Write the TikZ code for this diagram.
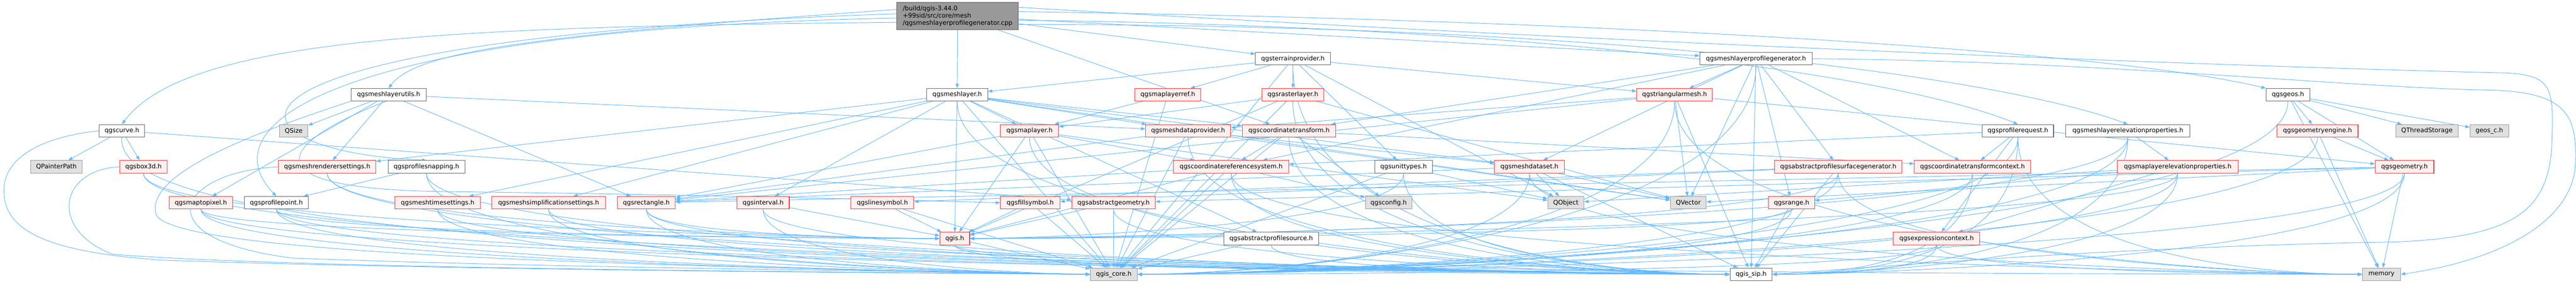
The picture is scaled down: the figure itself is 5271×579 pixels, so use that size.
\documentclass[tikz,border=0pt]{standalone}
\usepackage{fontspec}
\setmainfont{DejaVu Sans}
\usetikzlibrary{arrows.meta,backgrounds}
\definecolor{ec}{HTML}{63B8FF}
\definecolor{rfill}{HTML}{FFF0F0}
\definecolor{rbord}{HTML}{FF3333}
\definecolor{wbord}{HTML}{666666}
\definecolor{gfill}{HTML}{E0E0E0}
\definecolor{gbord}{HTML}{999999}
\definecolor{mfill}{HTML}{999999}
\definecolor{mbord}{HTML}{666666}
\newcommand{\tlc}[3]{\draw[dep] (#1.south) .. controls +(0,-#3) and +(-#3,0) .. (#2.west);}
\newcommand{\trc}[3]{\draw[dep] (#1.south) .. controls +(0,-#3) and +(#3,0) .. (#2.east);}
\begin{document}
\begin{tikzpicture}[x=1pt,y=1pt,
  base/.style={rectangle, inner sep=0pt, minimum height=25.5pt, line width=1.1pt, font=\fontsize{12.8}{14.8}\selectfont},
  wn/.style={base, draw=wbord, fill=white},
  rn/.style={base, draw=rbord, fill=rfill},
  gn/.style={base, draw=gbord, fill=gfill},
  mn/.style={base, draw=mbord, fill=mfill, align=left, minimum height=55.5pt},
  dep/.style={draw=ec, line width=1pt, -{Triangle[length=9pt,width=6.5pt]}}]
\useasboundingbox (0,0) rectangle (5271,579);
% ---------------- nodes ----------------
\node[mn, minimum width=249pt] (M) at (1959.5,546.5) {/build/qgis-3.44.0\\+99sid/src/core/mesh\\/qgsmeshlayerprofilegenerator.cpp};
% row 1
\node[wn, minimum width=153pt] (terrain) at (2645.5,459) {qgsterrainprovider.h};
\node[wn, minimum width=230pt] (mlpg) at (3593,459) {qgsmeshlayerprofilegenerator.h};
% row 2
\node[wn, minimum width=154pt] (mlu) at (795,385.5) {qgsmeshlayerutils.h};
\node[wn, minimum width=125pt] (mlayer) at (1958.5,385.5) {qgsmeshlayer.h};
\node[rn, minimum width=135pt] (mlref) at (2389.5,385.5) {qgsmaplayerref.h};
\node[rn, minimum width=127pt] (raster) at (2645.5,385.5) {qgsrasterlayer.h};
\node[rn, minimum width=155pt] (tri) at (3426.5,385.5) {qgstriangularmesh.h};
\node[wn, minimum width=89pt] (geos) at (4681.5,385.5) {qgsgeos.h};
% row 3
\node[wn, minimum width=93pt] (curve) at (249.5,312) {qgscurve.h};
\node[gn, minimum width=58pt] (qsize) at (601,312) {QSize};
\node[rn, minimum width=119pt] (maplayer) at (2106.5,312) {qgsmaplayer.h};
\node[rn, minimum width=174pt] (mdp) at (2431,312) {qgsmeshdataprovider.h};
\node[rn, minimum width=191pt] (ct) at (2637.5,312) {qgscoordinatetransform.h};
\node[wn, minimum width=146pt] (preq) at (4129,312) {qgsprofilerequest.h};
\node[wn, minimum width=254pt] (mlep) at (4354,312) {qgsmeshlayerelevationproperties.h};
\node[rn, minimum width=166pt] (geng) at (4742,312) {qgsgeometryengine.h};
\node[gn, minimum width=128pt] (qts) at (4966,312) {QThreadStorage};
\node[gn, minimum width=79pt] (geosc) at (5093.5,312) {geos\_c.h};
% row 4
\node[gn, minimum width=105pt] (ppath) at (115.5,238.5) {QPainterPath};
\node[rn, minimum width=97pt] (box3d) at (293.5,238.5) {qgsbox3d.h};
\node[rn, minimum width=199pt] (mrs) at (669.5,238.5) {qgsmeshrenderersettings.h};
\node[wn, minimum width=157pt] (psnap) at (872.5,238.5) {qgsprofilesnapping.h};
\node[rn, minimum width=236pt] (crs) at (2519,238.5) {qgscoordinatereferencesystem.h};
\node[wn, minimum width=118pt] (units) at (2872,238.5) {qgsunittypes.h};
\node[rn, minimum width=143pt] (mds) at (3129.5,238.5) {qgsmeshdataset.h};
\node[rn, minimum width=261pt] (apsg) at (3761.5,238.5) {qgsabstractprofilesurfacegenerator.h};
\node[rn, minimum width=238pt] (ctc) at (4036,238.5) {qgscoordinatetransformcontext.h};
\node[rn, minimum width=248pt] (mlelev) at (4456,238.5) {qgsmaplayerelevationproperties.h};
\node[rn, minimum width=120pt] (geom) at (4920,238.5) {qgsgeometry.h};
% row 5
\node[rn, minimum width=130pt] (m2p) at (411,165) {qgsmaptopixel.h};
\node[wn, minimum width=131pt] (ppoint) at (565.5,165) {qgsprofilepoint.h};
\node[rn, minimum width=175pt] (mts) at (895.5,165) {qgsmeshtimesettings.h};
\node[rn, minimum width=233pt] (mss) at (1122.5,165) {qgsmeshsimplificationsettings.h};
\node[rn, minimum width=119pt] (rect) at (1322.5,165) {qgsrectangle.h};
\node[rn, minimum width=107pt] (interval) at (1561.5,165) {qgsinterval.h};
\node[rn, minimum width=129pt] (linesym) at (1805.5,165) {qgslinesymbol.h};
\node[rn, minimum width=122pt] (fillsym) at (2108,165) {qgsfillsymbol.h};
\node[rn, minimum width=171pt] (absgeom) at (2278.5,165) {qgsabstractgeometry.h};
\node[gn, minimum width=95pt] (config) at (2841.5,165) {qgsconfig.h};
\node[gn, minimum width=74pt] (qobject) at (3204,165) {QObject};
\node[gn, minimum width=73pt] (qvector) at (3454.5,165) {QVector};
\node[rn, minimum width=94pt] (range) at (3666,165) {qgsrange.h};
% row 6
\node[rn, minimum width=61pt] (qgis) at (1953.5,92) {qgis.h};
\node[wn, minimum width=194pt] (aps) at (2601,92) {qgsabstractprofilesource.h};
\node[rn, minimum width=177pt] (expctx) at (3962.5,92) {qgsexpressioncontext.h};
% row 7
\node[gn, minimum width=96pt] (core) at (2279,19) {qgis\_core.h};
\node[wn, minimum width=86pt] (sip) at (3583,19) {qgis\_sip.h};
\node[gn, minimum width=78pt] (memory) at (4873,19) {memory};
% ---------------- edges ----------------
\begin{scope}[on background layer]
\fill[white] (0,0) rectangle (5271,579);
% main file
\draw[dep] (M.186) .. controls (900,525) and (380,500) .. (curve.north);
\draw[dep] (M.182) .. controls (700,520) and (420,330) .. (ppoint.north);
\draw[dep] (M.174) .. controls (1050,505) and (850,470) .. (mlu.north);
\draw[dep] (M.178) .. controls (330,500) and (430,270) .. (psnap.north);
\draw[dep] (M) -- (mlayer);
\draw[dep] (M) -- (terrain);
\draw[dep] (M) -- (ct);
\draw[dep] (M) -- (mlpg);
\draw[dep] (M.-4) .. controls (3200,525) and (3900,420) .. (preq.north);
\draw[dep] (M.-8) .. controls (3300,530) and (4100,420) .. (mlep.north);
\draw[dep] (M.4) .. controls (3200,540) and (4300,480) .. (geos.north west);
\draw[dep] (M.8) .. controls (3500,480) and (4700,440) .. (5130,430) .. controls (5220,425) and (5225,400) .. (5222,300) .. controls (5220,150) and (5150,95) .. (4900,85) .. controls (4300,75) and (3800,30) .. (sip.east);
% qgscurve.h
\draw[dep] (curve.west) .. controls (90,300) and (8,260) .. (8,190) .. controls (8,110) and (90,65) .. (330,48) .. controls (900,28) and (1800,22) .. (core.west);
\draw[dep] (curve) -- (ppath);
\draw[dep] (curve) -- (box3d);
\draw[dep] (curve.south) .. controls (230,120) and (1200,40) .. (sip.west);
\draw[dep] (curve) -- (absgeom);
% qgsbox3d.h
\draw[dep] (box3d.west) .. controls (120,232) and (100,110) .. (230,60) .. controls (600,30) and (1700,24) .. (core.west);
\tlc{box3d}{sip}{170}
\tlc{box3d}{qgis}{110}
% qgsmeshlayerutils.h
\draw[dep] (mlu) -- (qsize);
\draw[dep] (mlu) -- (mrs);
\draw[dep] (mlu) -- (m2p);
\draw[dep] (mlu) -- (mdp);
\draw[dep] (mlu) -- (rect);
\draw[dep] (mlu.south west) .. controls (560,320) and (290,230) .. (320,140) .. controls (360,60) and (1300,35) .. (core.west);
\draw[dep] (mlu.250) .. controls (600,300) and (470,195) .. (900,188) .. controls (1400,182) and (1800,172) .. (fillsym.west);
% qgsmeshrenderersettings.h
\draw[dep] (mrs.west) .. controls (360,228) and (290,90) .. (600,52) .. controls (1200,30) and (1900,26) .. (core.west);
\tlc{mrs}{qgis}{110}
\tlc{mrs}{sip}{170}
% qgsprofilesnapping.h
\draw[dep] (psnap) -- (ppoint);
\tlc{psnap}{core}{170}
\tlc{psnap}{sip}{170}
% row 5 leaves
\tlc{ppoint}{core}{110}
\tlc{ppoint}{sip}{110}
\tlc{ppoint}{qgis}{55}
\tlc{m2p}{core}{110}
\tlc{m2p}{sip}{110}
\tlc{m2p}{qgis}{55}
\tlc{mts}{core}{110}
\tlc{mts}{sip}{110}
\tlc{mss}{core}{110}
\tlc{mss}{sip}{110}
\tlc{rect}{core}{110}
\tlc{rect}{qgis}{55}
\tlc{rect}{sip}{110}
\tlc{interval}{core}{110}
\draw[dep] (interval) -- (qgis);
\tlc{interval}{sip}{110}
\draw[dep] (linesym) -- (core);
\draw[dep] (linesym) -- (qgis);
\draw[dep] (fillsym) -- (core);
\draw[dep] (fillsym) -- (qgis);
\draw[dep] (absgeom) -- (core);
\draw[dep] (absgeom) -- (qgis);
\tlc{absgeom}{sip}{110}
% qgsmeshlayer.h
\draw[dep] (mlayer) -- (maplayer);
\draw[dep] (mlayer) -- (mdp);
\draw[dep] (mlayer) -- (mrs);
\draw[dep] (mlayer) -- (mts);
\draw[dep] (mlayer) -- (mss);
\draw[dep] (mlayer) -- (interval);
\draw[dep] (mlayer) -- (ct);
\draw[dep] (mlayer) -- (aps);
\draw[dep] (mlayer) -- (core);
\tlc{mlayer}{sip}{280}
\draw[dep] (mlayer) -- (qvector);
\draw[dep] (mlayer) -- (mds);
\draw[dep] (mlayer) -- (qgis);
% qgsmaplayer.h
\draw[dep] (maplayer) -- (qgis);
\draw[dep] (maplayer) -- (core);
\tlc{maplayer}{sip}{230}
\draw[dep] (maplayer) -- (crs);
\draw[dep] (maplayer) -- (rect);
\draw[dep] (maplayer) -- (qobject);
% qgis.h
\draw[dep] (qgis) -- (core);
\tlc{qgis}{sip}{60}
\tlc{qgis}{memory}{60}
% qgsterrainprovider.h
\draw[dep] (terrain) -- (core);
\tlc{terrain}{sip}{330}
\draw[dep] (terrain) -- (mlayer);
\draw[dep] (terrain) -- (mlref);
\draw[dep] (terrain) -- (raster);
\draw[dep] (terrain) -- (tri);
\draw[dep] (terrain) -- (units);
\draw[dep] (terrain) -- (qobject);
% qgsmaplayerref.h
\draw[dep] (mlref) -- (maplayer);
\draw[dep] (mlref) -- (core);
% qgsrasterlayer.h
\draw[dep] (raster) -- (maplayer);
\draw[dep] (raster) -- (qgis);
\draw[dep] (raster) -- (core);
\tlc{raster}{sip}{280}
\draw[dep] (raster) -- (qvector);
% qgsmeshdataprovider.h
\draw[dep] (mdp) -- (mds);
\draw[dep] (mdp) -- (core);
\tlc{mdp}{sip}{230}
\draw[dep] (mdp) -- (rect);
\draw[dep] (mdp) -- (qvector);
% qgscoordinatetransform.h
\draw[dep] (ct) -- (crs);
\draw[dep] (ct) -- (ctc);
\draw[dep] (ct) -- (config);
\draw[dep] (ct) -- (core);
\tlc{ct}{sip}{230}
% qgscoordinatereferencesystem.h
\draw[dep] (crs) -- (core);
\tlc{crs}{sip}{170}
\draw[dep] (crs) -- (qgis);
\draw[dep] (crs) -- (rect);
\draw[dep] (crs) -- (config);
\tlc{crs}{memory}{170}
% qgsabstractprofilesource.h
\draw[dep] (aps) -- (core);
\tlc{aps}{sip}{60}
% qgstriangularmesh.h
\draw[dep] (tri) -- (mdp);
\draw[dep] (tri) -- (geom);
\draw[dep] (tri) -- (rect);
\draw[dep] (tri) -- (qvector);
\trc{tri}{core}{280}
\draw[dep] (tri) -- (sip);
\tlc{tri}{memory}{280}
% qgsmeshlayerprofilegenerator.h
\draw[dep] (mlpg) -- (apsg);
\draw[dep] (mlpg) -- (ctc);
\draw[dep] (mlpg) -- (crs);
\draw[dep] (mlpg) -- (ct);
\draw[dep] (mlpg) -- (tri);
\draw[dep] (mlpg) -- (range);
\trc{mlpg}{core}{330}
\draw[dep] (mlpg) -- (sip);
\draw[dep] (mlpg) -- (qvector);
\draw[dep] (mlpg) -- (mds);
\draw[dep] (mlpg.east) .. controls (4300,455) and (4800,400) .. (5100,395) .. controls (5255,390) and (5272,340) .. (5270,250) .. controls (5268,120) and (5100,45) .. (memory.east);
% qgsunittypes.h
\draw[dep] (units) -- (core);
\tlc{units}{sip}{170}
\draw[dep] (units) -- (qobject);
\trc{units}{qgis}{110}
% qgsmeshdataset.h
\draw[dep] (mds) -- (qvector);
\draw[dep] (mds) -- (qobject);
\trc{mds}{core}{170}
\draw[dep] (mds) -- (sip);
\tlc{mds}{memory}{170}
\draw[dep] (mds) -- (rect);
% qgsprofilerequest.h
\draw[dep] (preq) -- (ctc);
\draw[dep] (preq) -- (crs);
\draw[dep] (preq) -- (expctx);
\trc{preq}{core}{230}
\trc{preq}{sip}{230}
\tlc{preq}{memory}{230}
% qgsmeshlayerelevationproperties.h
\draw[dep] (mlep) -- (mlelev);
\trc{mlep}{core}{230}
\trc{mlep}{sip}{230}
\trc{mlep}{qgis}{170}
% qgsabstractprofilesurfacegenerator.h
\draw[dep] (apsg) -- (linesym);
\draw[dep] (apsg) -- (fillsym);
\trc{apsg}{core}{170}
\draw[dep] (apsg) -- (sip);
\trc{apsg}{qgis}{110}
\tlc{apsg}{memory}{170}
% qgscoordinatetransformcontext.h
\trc{ctc}{core}{170}
\trc{ctc}{sip}{170}
% qgsmaplayerelevationproperties.h
\draw[dep] (mlelev) -- (range);
\draw[dep] (mlelev) -- (qobject);
\trc{mlelev}{core}{170}
\trc{mlelev}{sip}{170}
\trc{mlelev}{qgis}{110}
\draw[dep] (mlelev) -- (expctx);
% qgsrange.h
\trc{range}{core}{110}
\draw[dep] (range) -- (sip);
\trc{range}{qgis}{55}
% qgsexpressioncontext.h
\trc{expctx}{core}{60}
\trc{expctx}{sip}{60}
\tlc{expctx}{memory}{60}
% qgsgeos.h
\draw[dep] (geos) -- (geng);
\draw[dep] (geos) -- (geom);
\draw[dep] (geos) -- (qts);
\draw[dep] (geos) -- (geosc);
\draw[dep] (geos) -- (memory);
\trc{geos}{core}{280}
% qgsgeometryengine.h
\draw[dep] (geng) -- (geom);
\trc{geng}{core}{230}
\draw[dep] (geng) -- (memory);
% qgsgeometry.h
\draw[dep] (geom) -- (absgeom);
\trc{geom}{core}{170}
\trc{geom}{sip}{170}
\draw[dep] (geom) -- (memory);
\draw[dep] (geom) -- (qvector);
\draw[dep] (geom) -- (rect);
\end{scope}
\end{tikzpicture}
\end{document}
